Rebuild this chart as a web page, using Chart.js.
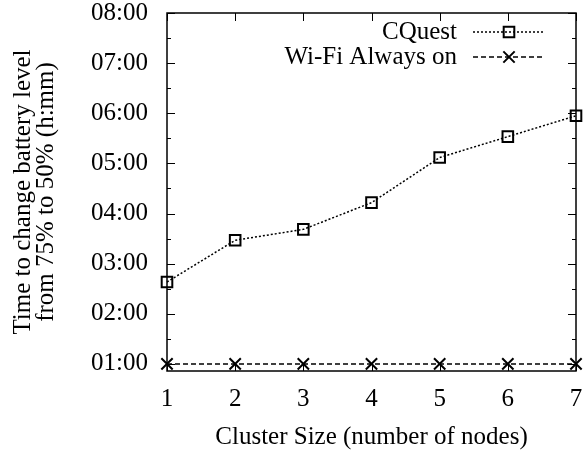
<!DOCTYPE html>
<html>
<head>
<meta charset="utf-8">
<script src="https://cdn.jsdelivr.net/npm/chart.js@4"></script>
<style>
  html, body { margin: 0; padding: 0; background: #fff; }
  #wrap { width: 586px; height: 450px; }
</style>
</head>
<body>
<div id="wrap"><canvas id="batteryChart"></canvas></div>
<script>
// datos del grafico (minutos)
const clusterSizes = ['1', '2', '3', '4', '5', '6', '7'];
const cquestMinutes = [158, 208, 221, 253, 307, 332, 357];
const wifiMinutes = [60, 60, 60, 60, 60, 60, 60];
const yTickValues = [60, 120, 180, 240, 300, 360, 420, 480];
const yTickLabels = ['01:00', '02:00', '03:00', '04:00', '05:00', '06:00', '07:00', '08:00'];

const FONT = "'Liberation Serif', 'DejaVu Serif', serif";
const FSIZE = 25;

// marco y marcas hacia dentro, estilo gnuplot
const frameTicks = {
    id: 'frameTicks',
    beforeDatasetsDraw(chart) {
        const { ctx, scales: { x, y } } = chart;
        // bordes del marco a partir de las escalas
        const left = x.getPixelForValue(0);
        const right = x.getPixelForValue(clusterSizes.length - 1);
        const top = y.getPixelForValue(y.max);
        const bottom = y.getPixelForValue(y.min);
        ctx.save();
        ctx.strokeStyle = '#000';
        ctx.lineWidth = 1;
        ctx.beginPath();
        yTickValues.forEach(v => {
            const py = Math.round(y.getPixelForValue(v)) + 0.5;
            ctx.moveTo(left, py); ctx.lineTo(left + 8, py);
            ctx.moveTo(right, py); ctx.lineTo(right - 8, py);
            const pm = Math.round(y.getPixelForValue(v - 30)) + 0.5;
            if (v - 30 > y.min) {
                ctx.moveTo(left, pm); ctx.lineTo(left + 4, pm);
                ctx.moveTo(right, pm); ctx.lineTo(right - 4, pm);
            }
        });
        clusterSizes.forEach((c, i) => {
            const px = Math.round(x.getPixelForValue(i)) + 0.5;
            ctx.moveTo(px, bottom); ctx.lineTo(px, bottom - 8);
            ctx.moveTo(px, top); ctx.lineTo(px, top + 8);
        });
        ctx.stroke();
        ctx.lineWidth = 1.5;
        ctx.strokeRect(left, top, right - left, bottom - top);
        ctx.restore();
    }
};

// leyenda a la derecha con texto alineado a la derecha
const keyBox = {
    id: 'keyBox',
    afterDatasetsDraw(chart) {
        const { ctx } = chart;
        ctx.save();
        ctx.font = FSIZE + 'px ' + FONT;
        ctx.textAlign = 'right';
        ctx.textBaseline = 'middle';
        chart.data.datasets.forEach((ds, i) => {
            const ry = 32 + i * 25;
            ctx.fillStyle = '#000';
            ctx.fillText(ds.label, 457, ry);
            ctx.strokeStyle = ds.borderColor;
            ctx.lineWidth = ds.borderWidth;
            ctx.setLineDash(ds.borderDash);
            ctx.beginPath();
            ctx.moveTo(473, ry); ctx.lineTo(545, ry);
            ctx.stroke();
            ctx.setLineDash([]);
            ctx.lineWidth = ds.pointBorderWidth;
            ctx.fillStyle = 'rgba(0,0,0,0)';
            if (Chart.helpers && Chart.helpers.drawPoint) {
                Chart.helpers.drawPoint(ctx, {
                    pointStyle: ds.pointStyle,
                    radius: ds.pointRadius,
                    borderWidth: ds.pointBorderWidth,
                    rotation: 0
                }, 509, ry);
            }
        });
        ctx.restore();
    }
};

new Chart(document.getElementById('batteryChart'), {
    type: 'line',
    data: {
        labels: clusterSizes,
        datasets: [{
            label: 'CQuest',
            data: cquestMinutes,
            borderColor: '#000',
            borderWidth: 1.5,
            borderDash: [2, 2],
            pointStyle: 'rect',
            pointRadius: 7.5,
            pointBorderWidth: 2,
            pointBorderColor: '#000',
            pointBackgroundColor: 'rgba(0,0,0,0)',
            clip: false
        }, {
            label: 'Wi-Fi Always on',
            data: wifiMinutes,
            borderColor: '#000',
            borderWidth: 1.5,
            borderDash: [5, 3],
            pointStyle: 'crossRot',
            pointRadius: 8,
            pointBorderWidth: 2,
            pointBorderColor: '#000',
            pointBackgroundColor: 'rgba(0,0,0,0)',
            clip: false
        }]
    },
    options: {
        responsive: true,
        maintainAspectRatio: false,
        animation: false,
        layout: { padding: { top: 13, right: 6, left: 0, bottom: 0 } },
        plugins: {
            legend: { display: false },
            tooltip: { enabled: false }
        },
        scales: {
            x: {
                type: 'category',
                offset: false,
                grid: { display: false },
                border: { display: false },
                ticks: {
                    color: '#000',
                    padding: 5,
                    font: { family: FONT, size: FSIZE }
                },
                title: {
                    display: true,
                    text: 'Cluster Size (number of nodes)',
                    color: '#000',
                    padding: { top: 0, bottom: 0 },
                    font: { family: FONT, size: FSIZE, lineHeight: 1.0 }
                },
                afterFit(scale) {
                    scale.height = 79;
                    scale.paddingLeft = 0;
                    scale.paddingRight = 0;
                }
            },
            y: {
                type: 'linear',
                min: 51.5,
                max: 480,
                grid: { display: false },
                border: { display: false },
                afterBuildTicks(scale) {
                    scale.ticks = yTickValues.map(v => ({ value: v }));
                },
                ticks: {
                    color: '#000',
                    padding: 11,
                    font: { family: FONT, size: FSIZE },
                    callback: function(value) {
                        const idx = yTickValues.indexOf(value);
                        return idx >= 0 ? yTickLabels[idx] : '';
                    }
                },
                title: {
                    display: true,
                    text: ['Time to change battery level', 'from 75% to 50% (h:mm)'],
                    color: '#000',
                    padding: { top: 12, bottom: 0 },
                    font: { family: FONT, size: FSIZE, lineHeight: 0.92 }
                },
                afterFit(scale) {
                    scale.width = 167;
                    scale.paddingTop = 0;
                    scale.paddingBottom = 0;
                }
            }
        }
    },
    plugins: [frameTicks, keyBox]
});
</script>
</body>
</html>
